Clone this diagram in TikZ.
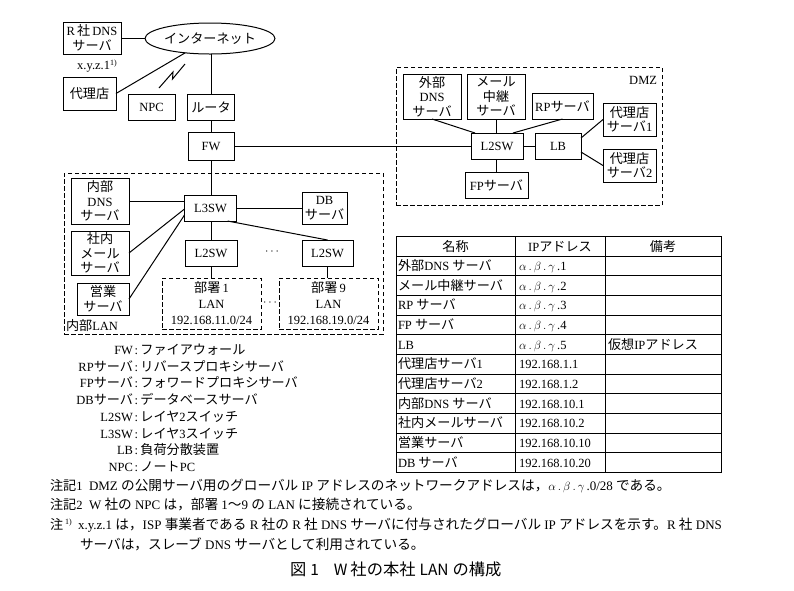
\documentclass[tikz,border=0pt]{standalone}
\usepackage{fontspec}
\setmainfont{Liberation Serif}
\newfontfamily\jpfont[Scale=1.05]{Noto Sans CJK JP}
\newfontfamily\capfont{Noto Sans CJK JP}
\usetikzlibrary{shapes.geometric,calc}

\XeTeXinterchartokenstate=1
\newXeTeXintercharclass\JPclass
\makeatletter
\newcommand\setJPrange[2]{\count@=#1\relax
  \loop\XeTeXcharclass\count@=\JPclass
  \ifnum\count@<#2\relax\advance\count@ by 1\relax\repeat}
\setJPrange{"3000}{"30FF}
\setJPrange{"4E00}{"9FFF}
\setJPrange{"FF00}{"FFEF}
\makeatother
\XeTeXinterchartoks 0 \JPclass = {\begingroup\jpfont}
\XeTeXinterchartoks 4095 \JPclass = {\begingroup\jpfont}
\XeTeXinterchartoks \JPclass 0 = {\endgroup}
\XeTeXinterchartoks \JPclass 4095 = {\endgroup}

\newcommand\supone{\raisebox{4.5pt}{\fontsize{8}{8}\selectfont 1)}}
\newcommand\abg{$\alpha\,.\,\beta\,.\,\gamma\,$}

\begin{document}
\begin{tikzpicture}[x=1pt,y=-1pt,
  every node/.style={font=\fontsize{12.5}{14.5}\selectfont, inner sep=0pt, outer sep=0pt},
  bx/.style 2 args={draw, line width=1pt, minimum width=#1pt, minimum height=#2pt, align=center},
  ln/.style={line width=1pt},
  dsh/.style={line width=1pt, dash pattern=on 4.5pt off 2.5pt},
  tl/.style={line width=0.9pt},
  note/.style={anchor=base west, font=\fontsize{13}{15}\selectfont},
]
\fill[white] (0,0) rectangle (794,590);
\useasboundingbox (0,0) rectangle (794,590);

% ---------- top ----------
\node[bx={58}{32}] (rdns) at (92,38) {R\,社\,DNS\\サーバ};
\node (xyz) at (97,66) {x.y.z.1\supone};
\node[ellipse, draw, line width=1pt, minimum width=126pt, minimum height=31pt, inner sep=0pt] (inet) at (210,38.5) {インターネット};
\node[bx={53}{33}] (agent) at (89.5,93.5) {代理店};
\node[bx={47}{26}] (npc) at (151.5,107) {NPC};
\node[bx={47}{26}] (router) at (211,107) {ルータ};
\node[bx={46}{28}] (fw) at (211,146) {FW};

\draw[ln] (rdns.east) -- (rdns.east -| inet.west);
\draw[ln] (agent.east) -- (inet.210);
\draw[ln] (159,88) -- (173,72) -- (172.5,79) -- (185,64);
\draw[ln] (router.north) -- (router.north |- inet.south);
\draw[ln] (router) -- (fw);

% ---------- DMZ ----------
\node[dsh, draw, minimum width=266pt, minimum height=138pt] (dmz) at (529,136) {};
\node[anchor=east] (dmzl) at (657,80) {DMZ};
\node[bx={58}{45}] (edns) at (432,96.5) {外部\\DNS\\サーバ};
\node[bx={58}{45}] (relay) at (496,96.5) {メール\\中継\\サーバ};
\node[bx={61}{26}] (rp) at (562.5,106) {RPサーバ};
\node[bx={53}{33}] (as1) at (629.5,119.5) {代理店\\サーバ1};
\node[bx={53}{33}] (as2) at (629.5,165.5) {代理店\\サーバ2};
\node[bx={52}{26}] (l2d) at (497,146) {L2SW};
\node[bx={46}{26}] (lb) at (558,146) {LB};
\node[bx={63}{26}] (fp) at (496.5,185) {FPサーバ};

\draw[ln] (fw.east) -- (l2d.west);
\draw[ln] (edns.south) -- ($(l2d.north west)+(4,0)$);
\draw[ln] (relay.south) -- (relay.south |- l2d.north);
\draw[ln] (rp.south) -- ($(l2d.north east)+(-10,0)$);
\draw[ln] (l2d) -- (lb);
\draw[ln] ($(lb.east)+(0,-8)$) -- (as1.west);
\draw[ln] ($(lb.east)+(0,6)$) -- (as2.west);
\draw[ln] (fp.north) -- (fp.north |- l2d.south);

% ---------- internal LAN ----------
\node[dsh, draw, minimum width=319pt, minimum height=161pt] (ilan) at (223.5,253.5) {};
\node[anchor=west] (ilanl) at (66,326) {内部LAN};
\node[bx={58}{46}] (idns) at (100,201) {内部\\DNS\\サーバ};
\node[bx={58}{44}] (smail) at (100,253) {社内\\メール\\サーバ};
\node[bx={52}{32}] (sales) at (103,299) {営業\\サーバ};
\node[bx={52}{26}] (l3) at (210.5,208) {L3SW};
\node[bx={45}{32}] (db) at (324.5,208) {DB\\サーバ};
\node[bx={52}{26}] (l2a) at (211,253) {L2SW};
\node[bx={51}{26}] (l2b) at (327.5,253) {L2SW};
\node (dots1) at (272,252) {$\cdots$};
\node[dsh, draw, minimum width=99pt, minimum height=51pt, align=center,
      font=\fontsize{12.5}{16}\selectfont] (d1) at (211.5,303.5) {部署\,1\\LAN\\192.168.11.0/24};
\node[dsh, draw, minimum width=99pt, minimum height=51pt, align=center,
      font=\fontsize{12.5}{16}\selectfont] (d9) at (328.5,303.5) {部署\,9\\LAN\\192.168.19.0/24};
\node (dots2) at (270,303) {$\cdots$};

\draw[ln] (fw.south) -- (fw.south |- l3.north);
\draw[ln] (idns.east) -- (idns.east -| l3.west);
\draw[ln] (smail.east) -- ($(l3.west)+(0,1)$);
\draw[ln] (sales.east) -- ($(l3.west)+(0,7)$);
\draw[ln] (l3.east) -- (db.west);
\draw[ln] (l2a.north) -- (l2a.north |- l3.south);
\draw[ln] ($(l3.south east)+(-9,0)$) -- (l2b.north);
\draw[ln] (l2a.south) -- (l2a.south |- d1.north);
\draw[ln] (l2b.south) -- (l2b.south |- d9.north);

% ---------- legend ----------
\foreach \lab/\desc [count=\i] in {FW/ファイアウォール, RPサーバ/リバースプロキシサーバ,
   FPサーバ/フォワードプロキシサーバ, DBサーバ/データベースサーバ, L2SW/レイヤ2スイッチ,
   L3SW/レイヤ3スイッチ, LB/負荷分散装置, NPC/ノートPC} {
  \node[anchor=base east] (lg\i) at (133,337.8+16.7*\i) {\lab};
  \node[anchor=base west] (ld\i) at (133,337.8+16.7*\i) {\hspace{1.5pt}:\hspace{2.5pt}\desc};
}

% ---------- table ----------
\draw[tl] (396,236.5) rectangle (721,472.5);
\foreach \i in {1,...,11} \draw[tl] (396,236.5+19.667*\i) -- (721,236.5+19.667*\i);
\draw[tl] (515,236.5) -- (515,472.5);
\draw[tl] (605,236.5) -- (605,472.5);
\node[anchor=base] (th1) at (455.5,251) {名称};
\node[anchor=base] (th2) at (560,251) {IPアドレス};
\node[anchor=base] (th3) at (663,251) {備考};
\foreach \a/\b [count=\i] in {外部DNS サーバ/\abg.1, メール中継サーバ/\abg.2, RP サーバ/\abg.3,
   FP サーバ/\abg.4, LB/\abg.5, 代理店サーバ1/192.168.1.1, 代理店サーバ2/192.168.1.2,
   内部DNS サーバ/192.168.10.1, 社内メールサーバ/192.168.10.2, 営業サーバ/192.168.10.10,
   DB サーバ/192.168.10.20} {
  \node[anchor=base west] (ta\i) at (398,250.8+19.667*\i) {\a};
  \node[anchor=base west] (tb\i) at (519,250.8+19.667*\i) {\b};
}
\node[anchor=base west] (tc5) at (608,250.8+19.667*5) {仮想IPアドレス};

% ---------- notes ----------
\node[anchor=base west] (n1a) at (50,490.5) {注記1};
\node[note] (n1b) at (89,490.5) {DMZ の公開サーバ用のグローバル IP アドレスのネットワークアドレスは，\abg.0/28 である。};
\node[anchor=base west] (n2a) at (50,509.5) {注記2};
\node[note] (n2b) at (89,509.5) {W 社の NPC は，部署 1～9 の LAN に接続されている。};
\node[anchor=base west] (n3a) at (50,529) {注\,\supone};
\node[note] (n3b) at (78,529) {x.y.z.1 は，ISP 事業者である R 社の R 社 DNS サーバに付与されたグローバル IP アドレスを示す。R 社 DNS};
\node[note] (n4b) at (80,549) {サーバは，スレーブ DNS サーバとして利用されている。};
\node[anchor=base west, font=\capfont\fontsize{15.5}{17}\selectfont] (cap) at (290,575) {図\hspace{4pt}1\hspace{15pt}W\hspace{3pt}社の本社\hspace{4pt}LAN\hspace{4pt}の構成};
\end{tikzpicture}
\end{document}
